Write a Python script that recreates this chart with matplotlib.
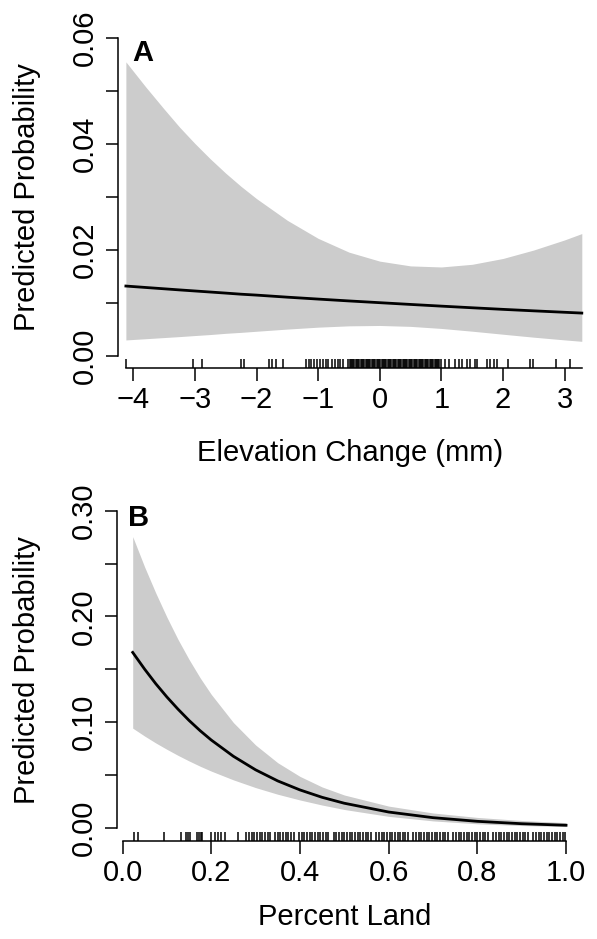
import matplotlib
matplotlib.use("Agg")
import matplotlib.pyplot as plt

plt.rcParams["font.family"] = ["Liberation Sans", "DejaVu Sans"]

W, H = 597, 939  # figure size in pixels

# Panel A: predicted probability vs elevation change (mm)
elev_x = [-4.12, -3.8, -3.5, -3.25, -3.0, -2.75, -2.5, -2.25, -2.0, -1.5, -1.0,
          -0.5, 0.0, 0.5, 1.0, 1.5, 2.0, 2.5, 3.0, 3.28]
elev_fit = [0.0132, 0.01293, 0.01268, 0.01247, 0.01227, 0.01207, 0.01187, 0.01166,
            0.01149, 0.0111, 0.01074, 0.01039, 0.01006, 0.00973, 0.00941, 0.0091,
            0.0088, 0.00852, 0.00825, 0.0081]
elev_lo = [0.00303, 0.00326, 0.00348, 0.00366, 0.00386, 0.00405, 0.00428, 0.00446,
           0.00467, 0.00508, 0.00544, 0.00569, 0.00576, 0.00559, 0.0052, 0.00468,
           0.00411, 0.00355, 0.00304, 0.00277]
elev_hi = [0.0555, 0.0508, 0.0466, 0.0432, 0.0401, 0.0372, 0.0345, 0.0320, 0.0297,
           0.0256, 0.0222, 0.0196, 0.0179, 0.0170, 0.0168, 0.0173, 0.0184,
           0.0200, 0.0219, 0.0231]
elev_rug = [-4.12, -3.03, -2.89, -2.25, -2.21, -1.80, -1.75, -1.68, -1.57, -1.19,
            -1.15, -1.11, -1.06, -1.01, -0.97, -0.92, -0.88, -0.84, -0.78, -0.73,
            -0.68, -0.65, -0.60, -0.51,
            -0.49, -0.47, -0.45, -0.43, -0.41, -0.39, -0.37, -0.35, -0.33, -0.31,
            -0.29, -0.27, -0.25, -0.23, -0.21, -0.19, -0.17, -0.15, -0.13, -0.11,
            -0.09, -0.07, -0.05, -0.03, -0.01, 0.01, 0.03, 0.05, 0.07, 0.09, 0.11,
            0.13, 0.15, 0.17, 0.19, 0.21, 0.23, 0.25, 0.27, 0.29, 0.31, 0.33, 0.35,
            0.37, 0.39, 0.41, 0.43, 0.45, 0.47, 0.49, 0.51, 0.53, 0.55, 0.57, 0.59,
            0.61, 0.63, 0.65, 0.67, 0.69, 0.71, 0.73, 0.75, 0.77, 0.79, 0.81, 0.83,
            0.85, 0.87, 0.89, 0.91, 0.93, 0.95, 0.97, 0.99,
            1.06, 1.12, 1.22, 1.28, 1.33, 1.41, 1.47, 1.55, 1.58, 1.74, 1.79, 1.85,
            1.90, 2.09, 2.44, 2.48, 2.86, 3.09]
elev_ticks = [-4, -3, -2, -1, 0, 1, 2, 3]
elev_ticklabels = ["\u22124", "\u22123", "\u22122", "\u22121", "0", "1", "2", "3"]
elev_yticks = [0.00, 0.01, 0.02, 0.03, 0.04, 0.05, 0.06]
elev_ylabels = ["0.00", "", "0.02", "", "0.04", "", "0.06"]

# Panel B: predicted probability vs percent land
land_x = [0.023, 0.05, 0.075, 0.1, 0.125, 0.15, 0.175, 0.2, 0.25, 0.3, 0.35, 0.4,
          0.45, 0.5, 0.6, 0.7, 0.8, 0.9, 1.0]
land_fit = [0.166, 0.1501, 0.1364, 0.1239, 0.1124, 0.1017, 0.092, 0.0832, 0.0678,
            0.055, 0.0445, 0.036, 0.029, 0.0234, 0.0151, 0.00976, 0.0063, 0.00404,
            0.00259]
land_lo = [0.0944, 0.0869, 0.0804, 0.0744, 0.0687, 0.0634, 0.0584, 0.0538, 0.0455,
           0.0382, 0.0319, 0.0265, 0.0217, 0.0175, 0.011, 0.0067, 0.00395, 0.0023,
           0.00133]
land_hi = [0.2755, 0.2467, 0.2222, 0.1994, 0.1784, 0.1594, 0.142, 0.1264, 0.0997,
           0.0785, 0.0617, 0.0488, 0.0388, 0.0312, 0.0207, 0.0142, 0.00998, 0.00709,
           0.00506]
land_rug = [0.025, 0.036, 0.094, 0.133, 0.144, 0.148, 0.152, 0.169, 0.172, 0.176,
            0.180, 0.200, 0.208, 0.215, 0.223, 0.232, 0.261,
            0.279, 0.285, 0.291, 0.297, 0.303, 0.309, 0.315, 0.321, 0.327, 0.332,
            0.344, 0.350, 0.356, 0.362, 0.368, 0.374, 0.380, 0.386, 0.398, 0.404,
            0.410, 0.416, 0.422, 0.428, 0.434, 0.440, 0.446, 0.452, 0.458, 0.464,
            0.476, 0.482, 0.488, 0.494, 0.500, 0.506, 0.512, 0.518, 0.524, 0.530,
            0.536, 0.542, 0.548, 0.554, 0.560, 0.572, 0.578, 0.584, 0.590, 0.596,
            0.602, 0.608, 0.614, 0.620, 0.626, 0.632, 0.638, 0.644, 0.656, 0.662,
            0.668, 0.674, 0.680, 0.686, 0.692, 0.698, 0.704, 0.710, 0.716, 0.722,
            0.728, 0.734, 0.746, 0.752, 0.758, 0.764, 0.770, 0.776, 0.782, 0.788,
            0.794, 0.800, 0.806, 0.812, 0.818, 0.824, 0.836, 0.842, 0.848, 0.854,
            0.860, 0.866, 0.872, 0.878, 0.884, 0.890, 0.896, 0.902, 0.908, 0.914,
            0.926, 0.932, 0.938, 0.944, 0.950, 0.956, 0.962, 0.968, 0.974, 0.980,
            0.986, 0.992, 0.998]
land_ticks = [0.0, 0.2, 0.4, 0.6, 0.8, 1.0]
land_ticklabels = ["0.0", "0.2", "0.4", "0.6", "0.8", "1.0"]
land_yticks = [0.00, 0.05, 0.10, 0.15, 0.20, 0.25, 0.30]
land_ylabels = ["0.00", "", "0.10", "", "0.20", "", "0.30"]

FS = 21
GREY = "#cccccc"


def px_axes(fig, left, right, top, bottom):
    """Axes placed by pixel edges (top/bottom measured from the top)."""
    return fig.add_axes([left / W, (H - bottom) / H, (right - left) / W, (bottom - top) / H])


def style(ax, xbounds, ybounds):
    for side in ("top", "right"):
        ax.spines[side].set_visible(False)
    ax.spines["left"].set_bounds(*ybounds)
    ax.spines["bottom"].set_bounds(*xbounds)
    for side in ("left", "bottom"):
        ax.spines[side].set_linewidth(1.1)
    ax.tick_params(axis="both", length=9, width=1.1, labelsize=FS)
    ax.tick_params(axis="x", pad=4)
    ax.tick_params(axis="y", pad=5)


def rug(ax, values):
    ax.vlines(values, 0, 0.026, transform=ax.get_xaxis_transform(),
              color="black", linewidth=1.1)


fig = plt.figure(figsize=(W / 100, H / 100), dpi=100)

# --- panel A
ax = px_axes(fig, 118, 590, 30, 368)
ax.fill_between(elev_x, elev_lo, elev_hi, color=GREY, linewidth=0)
ax.plot(elev_x, elev_fit, color="black", linewidth=2.0)
rug(ax, elev_rug)
ax.set_xlim(-4.248, 3.413)
ax.set_ylim(-0.002264, 0.06151)
style(ax, (elev_x[0], elev_x[-1]), (0, 0.06))
ax.set_xticks(elev_ticks)
ax.set_xticklabels(elev_ticklabels)
ax.set_yticks(elev_yticks)
ax.set_yticklabels(elev_ylabels, rotation=90, va="center")
ax.text(132 / W, 1 - 53 / H, "A", transform=fig.transFigure, fontsize=21,
        fontweight="bold", ha="left", va="center")
fig.text(27 / W, 1 - 197 / H, "Predicted Probability", rotation=90,
         fontsize=FS, ha="center", va="center")
fig.text(350 / W, 1 - 453 / H, "Elevation Change (mm)", fontsize=FS,
         ha="center", va="center")

# --- panel B
ax = px_axes(fig, 117, 590, 500, 841)
ax.fill_between(land_x, land_lo, land_hi, color=GREY, linewidth=0)
ax.plot(land_x, land_fit, color="black", linewidth=2.0)
rug(ax, land_rug)
ax.set_xlim(-0.0124, 1.054)
ax.set_ylim(-0.0123, 0.3101)
style(ax, (0.0, 1.0), (0, 0.30))
ax.set_xticks(land_ticks)
ax.set_xticklabels(land_ticklabels)
ax.set_yticks(land_yticks)
ax.set_yticklabels(land_ylabels, rotation=90, va="center")
ax.text(128 / W, 1 - 518 / H, "B", transform=fig.transFigure, fontsize=21,
        fontweight="bold", ha="left", va="center")
fig.text(27 / W, 1 - 670 / H, "Predicted Probability", rotation=90,
         fontsize=FS, ha="center", va="center")
fig.text(345 / W, 1 - 917 / H, "Percent Land", fontsize=FS,
         ha="center", va="center")

fig.savefig("out.png", dpi=100)
